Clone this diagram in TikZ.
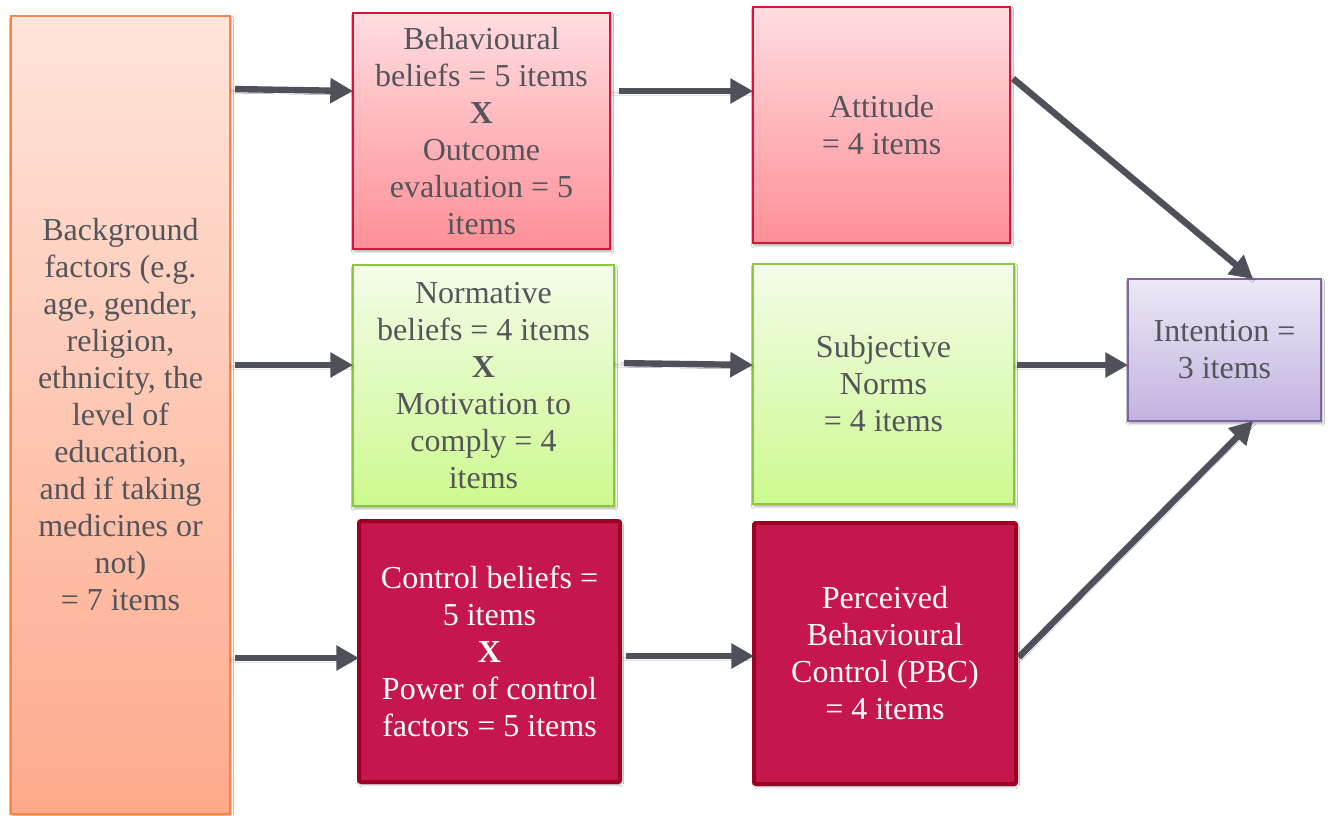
\documentclass[tikz,border=0pt]{standalone}
\usepackage{fontspec}
\setmainfont{LiberationSerif}[Extension=.ttf, UprightFont=*-Regular, BoldFont=*-Bold, ItalicFont=*-Italic, BoldItalicFont=*-BoldItalic]
\usetikzlibrary{arrows.meta,shadows.blur}
\definecolor{txt}{HTML}{54555B}
\definecolor{arrc}{HTML}{4E5159}
\definecolor{bgTop}{HTML}{FFE4DA}
\definecolor{bgBot}{HTML}{FDAA8B}
\definecolor{bgLine}{HTML}{F5834A}
\definecolor{pkTop}{HTML}{FFDDE0}
\definecolor{pkBot}{HTML}{FE8F97}
\definecolor{pkLine}{HTML}{E0103B}
\definecolor{grTop}{HTML}{F3FCE8}
\definecolor{grBot}{HTML}{CDF98F}
\definecolor{grLine}{HTML}{8DC63F}
\definecolor{crFill}{HTML}{C5174D}
\definecolor{crLine}{HTML}{9C0025}
\definecolor{vtTop}{HTML}{ECE8F6}
\definecolor{vtBot}{HTML}{C2B3DF}
\definecolor{vtLine}{HTML}{8064A2}
\tikzset{
  box/.style={anchor=north west, inner sep=0pt, outer sep=0pt, align=center, text=txt,
    font=\rmfamily\fontsize{24pt}{27.75pt}\selectfont,
    blur shadow={shadow xshift=0.8pt, shadow yshift=-1.8pt, shadow blur steps=6, shadow opacity=35}},
  bgbox/.style={box, draw=bgLine, line width=1.5pt, top color=bgTop, bottom color=bgBot},
  pinkbox/.style={box, draw=pkLine, line width=1.5pt, top color=pkTop, bottom color=pkBot},
  greenbox/.style={box, draw=grLine, line width=1.5pt, top color=grTop, bottom color=grBot},
  crimbox/.style={box, draw=crLine, line width=3pt, fill=crFill, text=white, rounded corners=1.5pt},
  violetbox/.style={box, draw=vtLine, line width=1.5pt, top color=vtTop, bottom color=vtBot},
  arr/.style={draw=arrc, line width=4.8pt, -{Triangle[length=17pt,width=18pt]},
    blur shadow={shadow xshift=0.6pt, shadow yshift=-1.2pt, shadow blur steps=4, shadow opacity=25}}
}
\begin{document}
\begin{tikzpicture}[x=0.75pt,y=-0.75pt]
\useasboundingbox (0,0) rectangle (1329,815);
\fill[white] (0,0) rectangle (1329,815);

% boxes
\node[bgbox, minimum width=219*0.75pt, minimum height=798*0.75pt] (bg) at (11,16)
  {Background\\factors (e.g.\\age, gender,\\religion,\\ethnicity, the\\level of\\education,\\and if taking\\medicines or\\not)\\= 7 items};

\node[pinkbox, minimum width=257*0.75pt, minimum height=236*0.75pt] (bb) at (353,13)
  {Behavioural\\beliefs = 5 items\\\textbf{X}\\Outcome\\evaluation = 5\\items};
\node[pinkbox, minimum width=257*0.75pt, minimum height=236*0.75pt] (att) at (753,7)
  {Attitude\\= 4 items};

\node[greenbox, minimum width=261*0.75pt, minimum height=241*0.75pt] (nb) at (353,265)
  {Normative\\beliefs = 4 items\\\textbf{X}\\Motivation to\\comply = 4\\items};
\node[greenbox, minimum width=261*0.75pt, minimum height=240*0.75pt] (sn) at (753,264)
  {Subjective\\Norms\\= 4 items};

\node[crimbox, minimum width=261*0.75pt, minimum height=261*0.75pt] (cb) at (359,521)
  {Control beliefs =\\5 items\\\textbf{X}\\Power of control\\factors = 5 items};
\node[crimbox, minimum width=262*0.75pt, minimum height=261*0.75pt] (pbc) at (754,523)
  {Perceived\\Behavioural\\Control (PBC)\\= 4 items};

\node[violetbox, minimum width=193*0.75pt, minimum height=142*0.75pt] (int) at (1128,279)
  {Intention =\\3 items};

% connectors
\draw[arr, shorten <=5*0.75pt] (bg.east |- 0,89) -- (bb.west |- 0,91);
\draw[arr, shorten <=5*0.75pt] (bg.east |- 0,365) -- (nb.west |- 0,365);
\draw[arr, shorten <=5*0.75pt] (bg.east |- 0,658) -- (cb.west |- 0,658);

\draw[arr, shorten <=9*0.75pt] (bb.east |- 0,91) -- (att.west |- 0,91);
\draw[arr, shorten <=10*0.75pt] (nb.east |- 0,363) -- (sn.west |- 0,365);
\draw[arr, shorten <=6*0.75pt] (cb.east |- 0,656) -- (pbc.west |- 0,656);

\draw[arr, shorten <=4*0.75pt] (att.east |- 0,76) -- (int.north -| 1253,0);
\draw[arr, shorten <=3*0.75pt] (sn.east |- 0,365) -- (int.west |- 0,365);
\draw[arr, shorten <=4*0.75pt] (pbc.east |- 0,660) -- (int.south -| 1253,0);
\end{tikzpicture}
\end{document}
